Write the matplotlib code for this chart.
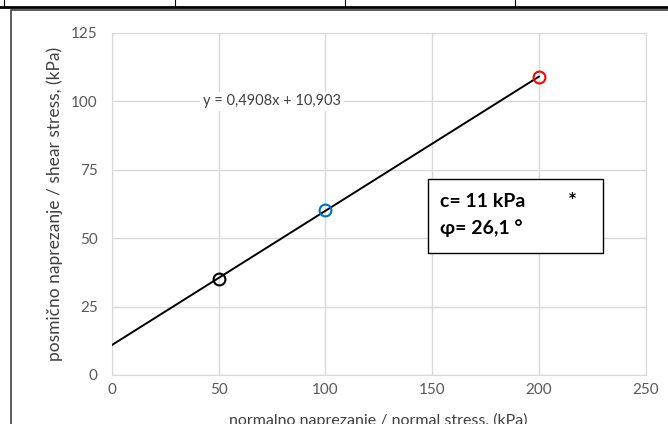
import numpy as np
import matplotlib
matplotlib.use("Agg")
import matplotlib.pyplot as plt
from matplotlib.patches import Rectangle
from matplotlib.lines import Line2D

plt.rcParams['font.family'] = ['Lato', 'DejaVu Sans']

# data
normal_stress = [50, 100, 200]
shear_stress = [35.2, 60.3, 109.0]
point_colors = ["black", "#0070C0", "#FF0000"]
slope = 0.4908
intercept = 10.903
trend_x = [0, 200]
equation = "y = 0,4908x + 10,903"
x_ticks = [0, 50, 100, 150, 200, 250]
y_ticks = [0, 25, 50, 75, 100, 125]

W, H = 668, 424
fig = plt.figure(figsize=(W / 100, H / 100), dpi=100)

# table remains at the top + chart frame
fig.add_artist(Line2D([0, 1], [1 - 6.5 / H, 1 - 6.5 / H], color="black", lw=2.0, transform=fig.transFigure))
for xv in [4, 175, 345, 515]:
    fig.add_artist(Line2D([xv / W, xv / W], [1, 1 - 6 / H], color="black", lw=0.8, transform=fig.transFigure))
fig.add_artist(Rectangle((11 / W, -0.1), 1.2, 1.1 - 10.5 / H, fill=False, edgecolor="#404040", lw=1.2,
                         transform=fig.transFigure))

ax = fig.add_axes([111.7 / W, (H - 375) / H, (645.7 - 111.7) / W, (375 - 33) / H])

ax.plot(trend_x, [slope * v + intercept for v in trend_x], color="black", lw=1.4, zorder=3)
for xv, yv, c in zip(normal_stress, shear_stress, point_colors):
    ax.plot(xv, yv, 'o', ms=8.5, mfc="none", mec=c, mew=1.5, zorder=4)

ax.set_xlim(0, 250)
ax.set_ylim(0, 125)
ax.set_xticks(x_ticks)
ax.set_yticks(y_ticks)
ax.grid(color="#D9D9D9", lw=1.0)
ax.set_axisbelow(True)
for s in ax.spines.values():
    s.set_color("#D9D9D9")
ax.tick_params(length=0, labelsize=11, labelcolor="#595959")
ax.tick_params(axis="y", pad=10)
ax.tick_params(axis="x", pad=6)

ax.set_xlabel("normalno naprezanje / normal stress, (kPa)", fontsize=11.5, color="#404040", labelpad=11)
ax.set_ylabel("posmično naprezanje / shear stress, (kPa)", fontsize=12.5, color="#404040", labelpad=6)

ax.text(75, 100, equation, ha="center", va="center", fontsize=10.5, color="#404040",
        bbox=dict(facecolor="white", edgecolor="none", pad=2), zorder=5)

# parameter box
fig.add_artist(Rectangle((427.7 / W, 1 - 253 / H), (603 - 427.7) / W, (253 - 179.3) / H,
                         facecolor="white", edgecolor="black", lw=1.0, transform=fig.transFigure, zorder=6))
fig.text(440 / W, 1 - 207 / H, "c= 11 kPa", fontsize=14, fontweight="bold", zorder=7)
fig.text(440 / W, 1 - 234 / H, "φ= 26,1 °", fontsize=14, fontweight="bold", zorder=7)
fig.text(572 / W, 1 - 208 / H, "*", fontsize=15, fontweight="bold", ha="center", zorder=7)

fig.savefig("out.png", dpi=100)
